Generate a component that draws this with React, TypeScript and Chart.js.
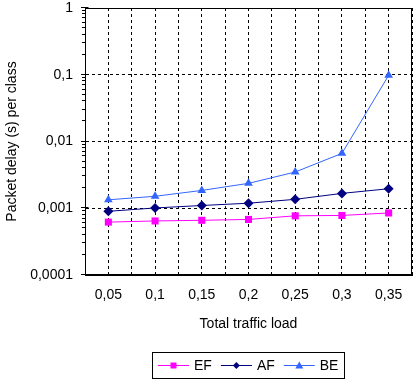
import React, { useEffect, useRef } from 'react';
import { Chart, registerables } from 'chart.js';

Chart.register(...registerables);

const categories = ['0,05', '0,1', '0,15', '0,2', '0,25', '0,3', '0,35'];
const efValues = [0.00062, 0.000645, 0.00066, 0.00068, 0.00077, 0.00078, 0.00085];
const afValues = [0.0009, 0.00101, 0.0011, 0.00119, 0.00136, 0.00167, 0.00196];
const beValues = [0.00134, 0.00151, 0.00185, 0.00236, 0.00349, 0.00664, 0.098];
const yTickLabels = ['0,0001', '0,001', '0,01', '0,1', '1'];
const yMin = 0.0001;
const yMax = 1;
const minorDigits = [2, 3, 4, 5, 6, 7, 8, 9];
const seriesNames = ['EF', 'AF', 'BE'];
const seriesColors = ['#FF00FF', '#000080', '#3366FF'];
const seriesMarkers = ['rect', 'rectRot', 'triangle'];
const xTitle = 'Total traffic load';
const yTitle = 'Packet delay (s) per class';

const FONT = "'Liberation Sans', Arial, sans-serif";

function isMajor(v: number) {
  const l = Math.log10(v);
  return Math.abs(l - Math.round(l)) < 1e-6;
}

function drawMarker(g: CanvasRenderingContext2D, marker: string, cx: number, cy: number) {
  g.beginPath();
  if (marker === 'rect') {
    g.rect(cx - 3, cy - 3, 6, 6);
  } else if (marker === 'rectRot') {
    g.moveTo(cx, cy - 3.5);
    g.lineTo(cx + 3.5, cy);
    g.lineTo(cx, cy + 3.5);
    g.lineTo(cx - 3.5, cy);
    g.closePath();
  } else {
    g.moveTo(cx, cy - 4);
    g.lineTo(cx + 4, cy + 3);
    g.lineTo(cx - 4, cy + 3);
    g.closePath();
  }
  g.fill();
}

const framePlugin = {
  id: 'frame',
  beforeDatasetsDraw(chart: any) {
    const { ctx, chartArea: a } = chart;
    ctx.save();
    ctx.setLineDash([]);
    ctx.strokeStyle = '#000';
    ctx.lineWidth = 1;
    const l = Math.round(a.left) + 0.5;
    const t = Math.round(a.top) + 0.5;
    const r = Math.round(a.right) - 0.5;
    const b = Math.round(a.bottom) - 0.5;
    ctx.strokeRect(l, t, r - l, b - t);
    // y-axis tick marks (major + minor), positioned by the log scale
    const ys = chart.scales.y;
    ctx.beginPath();
    const e0 = Math.round(Math.log10(yMin));
    const e1 = Math.round(Math.log10(yMax));
    for (let e = e0; e <= e1; e++) {
      const base = Math.pow(10, e);
      const py = Math.round(ys.getPixelForValue(base)) - 0.5;
      ctx.moveTo(l - 4.5, py);
      ctx.lineTo(l + 3, py);
      if (e < e1) {
        for (const d of minorDigits) {
          const my = Math.round(ys.getPixelForValue(d * base)) - 0.5;
          ctx.moveTo(l - 3.5, my);
          ctx.lineTo(l, my);
        }
      }
    }
    ctx.stroke();
    ctx.restore();
  },
  afterDraw(chart: any) {
    // Legend: line + marker + label for each series, inside a framed box
    const { ctx, chartArea: a } = chart;
    ctx.save();
    ctx.font = `14px ${FONT}`;
    ctx.textBaseline = 'middle';
    ctx.textAlign = 'left';
    const lineW = 31;
    const textGap = 5;
    const itemGap = 9;
    const widths = seriesNames.map((n) => ctx.measureText(n).width);
    const total =
      widths.reduce((s, w) => s + lineW + textGap + w, 0) + itemGap * (seriesNames.length - 1);
    const cx = (a.left + a.right) / 2;
    const cy = Math.round(chart.height) - 20;
    let x = Math.round(cx - total / 2);
    const startX = x;
    seriesNames.forEach((n, i) => {
      ctx.strokeStyle = seriesColors[i];
      ctx.fillStyle = seriesColors[i];
      ctx.lineWidth = 1;
      ctx.setLineDash([]);
      ctx.beginPath();
      ctx.moveTo(x, cy + 0.5);
      ctx.lineTo(x + lineW, cy + 0.5);
      ctx.stroke();
      drawMarker(ctx, seriesMarkers[i], x + lineW / 2, cy + 0.5);
      ctx.fillStyle = '#000';
      ctx.fillText(n, x + lineW + textGap, cy + 1);
      x += lineW + textGap + widths[i] + itemGap;
    });
    const endX = x - itemGap;
    ctx.strokeStyle = '#000';
    ctx.lineWidth = 1;
    const l = Math.round(startX - 6) + 0.5;
    const r = Math.round(endX + 6) + 0.5;
    const t = cy - 13 + 0.5;
    const b = cy + 13 + 0.5;
    ctx.strokeRect(l, t, r - l, b - t);
    ctx.restore();
  },
};

export default function App() {
  const ref = useRef<HTMLCanvasElement | null>(null);

  useEffect(() => {
    if (!ref.current) return;
    const values = [efValues, afValues, beValues];
    const chart = new Chart(ref.current, {
      type: 'line',
      data: {
        labels: categories,
        datasets: seriesNames.map((name, i) => ({
          label: name,
          data: values[i],
          borderColor: seriesColors[i],
          backgroundColor: seriesColors[i],
          borderWidth: 1,
          pointStyle: seriesMarkers[i] as any,
          pointRadius: 5,
          pointBorderWidth: 0,
          pointBackgroundColor: seriesColors[i],
          tension: 0,
          fill: false,
          xAxisID: 'x',
          yAxisID: 'y',
        })),
      },
      options: {
        animation: false,
        responsive: false,
        maintainAspectRatio: false,
        devicePixelRatio: 1,
        font: { family: FONT, size: 14 },
        color: '#000',
        layout: { padding: { left: 0, right: 8, top: 8, bottom: 32 } },
        plugins: {
          tooltip: { enabled: false },
          legend: { display: false },
        },
        scales: {
          x: {
            type: 'category',
            position: 'bottom',
            offset: true,
            grid: {
              offset: true,
              color: '#000',
              lineWidth: 1,
              drawTicks: false,
            },
            border: { display: true, color: '#000', width: 1, dash: [3, 3] },
            ticks: {
              color: '#000',
              font: { family: FONT, size: 14 },
              padding: 12,
              autoSkip: false,
              maxRotation: 0,
            },
            title: {
              display: true,
              text: xTitle,
              color: '#000',
              font: { family: FONT, size: 14 },
              padding: { top: 0, bottom: 20 },
            },
            afterFit: (s: any) => {
              s.height = 78;
              s.paddingLeft = 0;
              s.paddingRight = 0;
            },
          },
          x2: {
            type: 'category',
            position: 'top',
            labels: categories,
            offset: true,
            grid: {
              offset: false,
              color: '#000',
              lineWidth: 1,
              drawTicks: false,
            },
            border: { display: false, dash: [3, 3] },
            ticks: { display: false },
          },
          y: {
            type: 'logarithmic',
            min: yMin,
            max: yMax,
            grid: {
              color: (c: any) => (c.tick && isMajor(c.tick.value) ? '#000' : 'rgba(0,0,0,0)'),
              drawTicks: false,
              lineWidth: 1,
            },
            border: { display: true, color: '#000', width: 1, dash: [3, 3] },
            ticks: {
              autoSkip: false,
              color: '#000',
              font: { family: FONT, size: 14 },
              padding: 12,
              callback: (v: any) => {
                const n = Number(v);
                if (!isMajor(n)) return '';
                const e = Math.round(Math.log10(n));
                return yTickLabels[e + 4] ?? '';
              },
            },
            title: {
              display: true,
              text: yTitle,
              color: '#000',
              font: { family: FONT, size: 14 },
              padding: { top: 4, bottom: 4 },
            },
            afterFit: (s: any) => {
              s.width = 85;
              s.paddingTop = 0;
              s.paddingBottom = 0;
            },
          },
        },
      },
      plugins: [framePlugin],
    } as any);
    return () => chart.destroy();
  }, []);

  return (
    <div style={{ position: 'fixed', left: 0, top: 0, width: 420, height: 385, background: '#fff' }}>
      <canvas ref={ref} width={420} height={385} style={{ display: 'block' }} />
    </div>
  );
}
